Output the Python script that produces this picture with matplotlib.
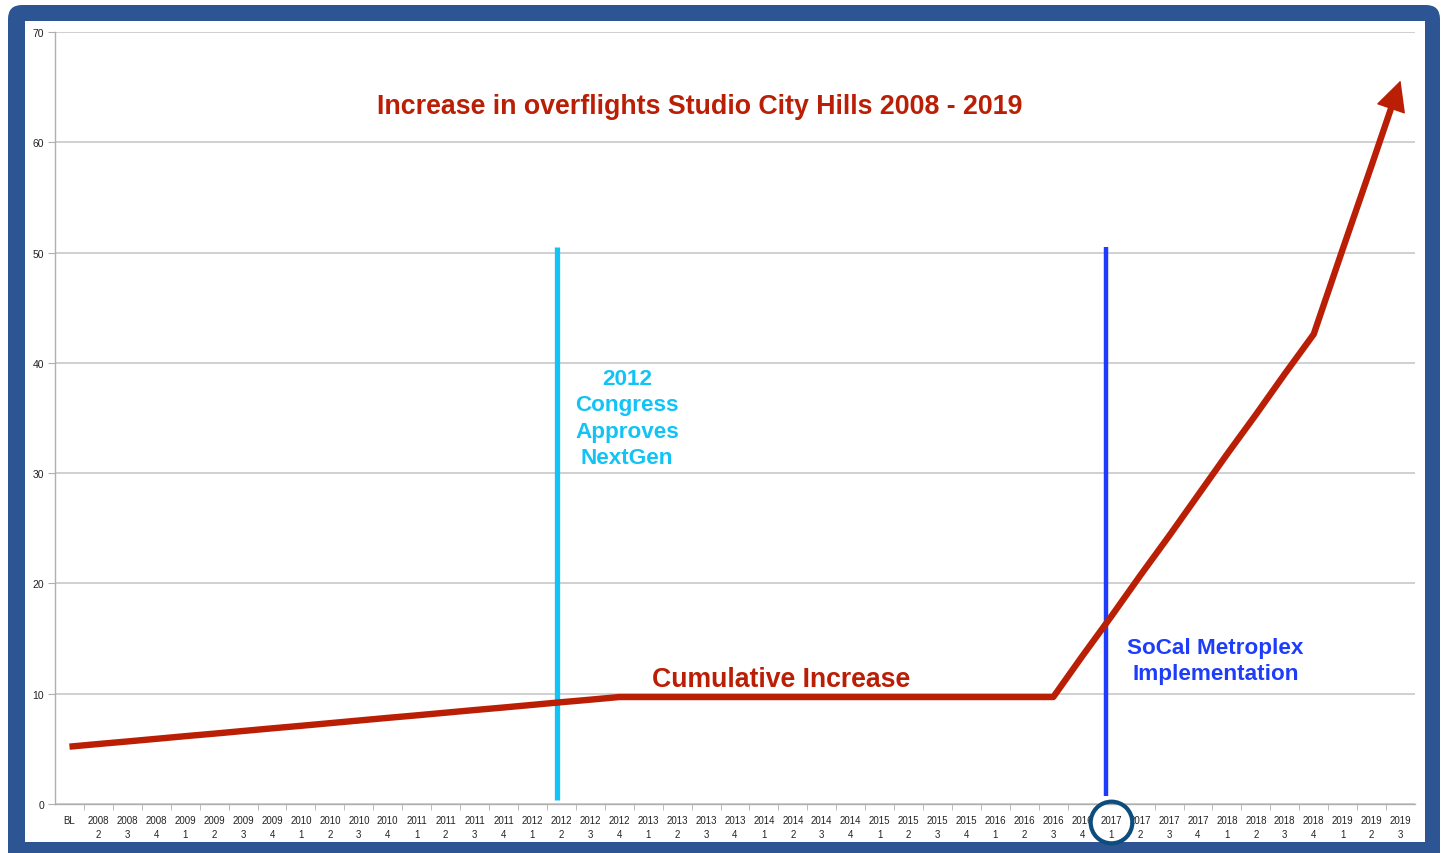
import matplotlib
matplotlib.use("Agg")
import matplotlib.pyplot as plt
from matplotlib.patches import FancyBboxPatch, Rectangle

# quarters on the x axis
years = ["2008"] * 3 + [str(y) for y in range(2009, 2019) for _ in range(4)] + ["2019"] * 3
quarters = ["2", "3", "4"] + ["1", "2", "3", "4"] * 10 + ["1", "2", "3"]
labels = ["BL"] + [f"{y}\n{q}" for y, q in zip(years, quarters)]

# cumulative increase
cumulative = [5.20, 5.44, 5.67, 5.91, 6.15, 6.38, 6.62, 6.86, 7.09, 7.33,
              7.57, 7.81, 8.04, 8.28, 8.52, 8.75, 8.99, 9.23, 9.46, 9.70,
              9.7, 9.7, 9.7, 9.7, 9.7, 9.7, 9.7, 9.7, 9.7, 9.7,
              9.7, 9.7, 9.7, 9.7, 9.7, 13.4, 17.0, 20.7, 24.3, 28.0,
              31.7, 35.3, 39.0, 42.6, 50.3, 57.9, 65.6]

nextgen_idx = labels.index("2012\n2")
metroplex_idx = labels.index("2017\n1")
marker_top = 50.5

RED = "#BA1F05"
CYAN = "#12C3F5"
BLUE = "#1E3DFA"
FRAME = "#2D5594"

fig = plt.figure(figsize=(14.45, 8.54), dpi=100)
plt.rcParams['font.family'] = ['Liberation Sans', 'DejaVu Sans']

# blue frame with white inner panel (inches)
fig.add_artist(FancyBboxPatch((0.08, -0.3), 14.32, 8.78, boxstyle="round,pad=0,rounding_size=0.14",
                              transform=fig.dpi_scale_trans, facecolor=FRAME, edgecolor="none", zorder=-3))
fig.add_artist(Rectangle((0.25, 0.11), 14.0, 8.21, transform=fig.dpi_scale_trans,
                         facecolor="white", edgecolor="none", zorder=-2))

ax = fig.add_axes([55 / 1445, 1 - 805 / 854, 1360 / 1445, 772 / 854])
ax.set_facecolor("none")
x = list(range(len(labels)))

ax.set_xlim(-0.5, len(labels) - 0.5)
ax.set_ylim(0, 70)
ax.set_yticks(range(0, 71, 10))
ax.yaxis.grid(True, color="#C8C8C8", lw=1.2)
ax.set_axisbelow(True)
for s in ["top", "right"]:
    ax.spines[s].set_visible(False)
for s in ["left", "bottom"]:
    ax.spines[s].set_color("#AFAFAF")
    ax.spines[s].set_linewidth(1.0)

ax.set_xticks(x)
ax.set_xticklabels(labels, fontsize=7, linespacing=1.45)
ax.set_xticks([i + 0.5 for i in x[:-1]], minor=True)
ax.tick_params(axis="x", which="major", length=0, pad=8, colors="#222222")
ax.tick_params(axis="x", which="minor", length=4, color="#AFAFAF")
ax.tick_params(axis="y", length=5, color="#AFAFAF", labelsize=7.5, pad=3, labelcolor="#222222")

# event markers
ax.plot([nextgen_idx - 0.15] * 2, [0.4, marker_top], color=CYAN, lw=3.8, solid_capstyle="butt", zorder=3)
ax.plot([metroplex_idx - 0.17] * 2, [0.7, marker_top], color=BLUE, lw=3.2, solid_capstyle="butt", zorder=3)

# cumulative line, last segment ends under the arrow head
shaft_x = x[:-1] + [x[-2] + 0.7 * (x[-1] - x[-2])]
shaft_y = cumulative[:-1] + [cumulative[-2] + 0.7 * (cumulative[-1] - cumulative[-2])]
ax.plot(shaft_x, shaft_y, color=RED, lw=4.6, solid_joinstyle="round", solid_capstyle="butt", zorder=4)
ax.annotate("", xy=(x[-1], cumulative[-1]), xytext=(x[-2], cumulative[-2]),
            arrowprops=dict(arrowstyle="-|>,head_length=1.0,head_width=0.5", mutation_scale=20,
                            facecolor=RED, edgecolor=RED, lw=1.0, shrinkA=0, shrinkB=0), zorder=4)

ax.text(0.474, 0.904, "Increase in overflights Studio City Hills 2008 - 2019", transform=ax.transAxes,
        ha="center", va="center", fontsize=19.3, fontweight="bold", color=RED)
ax.text(24.6, 11.3, "Cumulative Increase", ha="center", va="center", fontsize=19.2,
        fontweight="bold", color=RED)
ax.text(19.27, 35.0, "2012\nCongress\nApproves\nNextGen", ha="center", va="center", fontsize=16.2,
        fontweight="bold", color=CYAN, linespacing=1.33)
ax.text(39.6, 13.0, "SoCal Metroplex\nImplementation", ha="center", va="center", fontsize=16.2,
        fontweight="bold", color=BLUE, linespacing=1.33)

# circle around the 2017 Q1 label
ax.plot([metroplex_idx], [-0.0235], transform=ax.get_xaxis_transform(), marker="o", ms=30,
        mfc="none", mec="#0C4D7E", mew=3.0, clip_on=False, zorder=5)

fig.savefig("out.png", dpi=100)
